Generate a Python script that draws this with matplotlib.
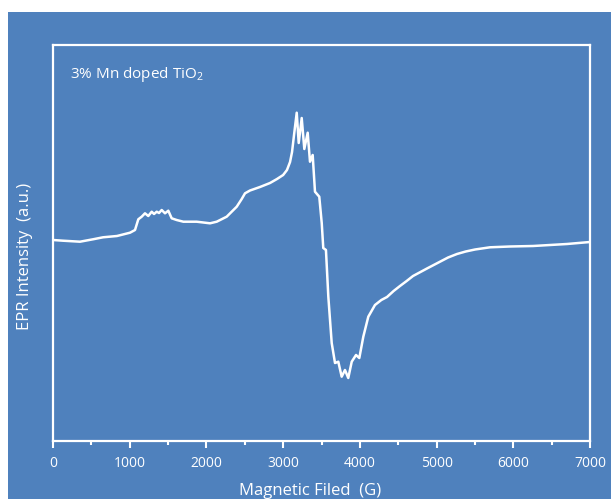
import matplotlib
matplotlib.use("Agg")
import matplotlib.pyplot as plt
from matplotlib.patches import Rectangle
from matplotlib.ticker import MultipleLocator

# Data (field in gauss, intensity in arbitrary units)
field = [0, 130, 352, 521, 652, 834, 1004, 1069, 1112, 1156, 1199, 1242, 1287,
         1317, 1352, 1382, 1417, 1460, 1503, 1547, 1612, 1699, 1873, 2047, 2134,
         2264, 2395, 2460, 2503, 2568, 2698, 2829, 2920, 3000, 3050, 3090, 3116, 3145, 3177, 3203,
         3242, 3276, 3320, 3350, 3385, 3415, 3471, 3503, 3523, 3558, 3589, 3633,
         3676, 3719, 3763, 3806, 3849, 3894, 3950, 3993, 4045, 4110, 4197, 4280, 4354,
         4440, 4523, 4610, 4693, 4875, 5045, 5150, 5266, 5380, 5501, 5696, 5957, 6257, 6479, 6700, 7000]
intensity = [0, -0.7, -1.7, 0.7, 2.7, 4, 7.3, 10, 20.7, 23.3, 26.7, 24, 28.3,
             26, 28.3, 27, 30, 26.7, 29.3, 21.7, 20, 18.3, 18.3, 16.7, 18.3,
             23.3, 33.3, 41, 46.7, 49.5, 53, 57, 61, 65, 70, 78, 88, 107, 127.3, 97,
             122, 91, 107.3, 78.3, 85, 48.3, 43.3, 17, -8, -10, -56.7, -103,
             -123, -121.7, -136.7, -130, -138, -121.7, -115, -118, -96.7, -76.7, -65, -60, -57,
             -51, -46, -41, -36, -28.5, -21.7, -17.5, -14, -11.5, -9.5, -7.3, -6.5, -6, -5, -4, -2]
x_ticks = [0, 1000, 2000, 3000, 4000, 5000, 6000, 7000]
x_label = "Magnetic Filed  (G)"
y_label = "EPR Intensity  (a.u.)"
annotation = "3% Mn doped TiO$_\\mathregular{2}$"

BLUE = "#4f81bd"
W, H = 611, 499

plt.rcParams['font.family'] = ['Open Sans', 'DejaVu Sans']
plt.rcParams['mathtext.fontset'] = 'custom'
plt.rcParams['mathtext.rm'] = 'Open Sans'
plt.rcParams['mathtext.it'] = 'Open Sans'
plt.rcParams['mathtext.bf'] = 'Open Sans'

fig = plt.figure(figsize=(W / 100, H / 100), dpi=100, facecolor="white")
fig.patches.append(Rectangle((8 / W, 0), 1 - 8 / W, 1 - 12 / H,
                             transform=fig.transFigure, facecolor=BLUE,
                             edgecolor="none", zorder=-10))

left, right = 53 / W, 590 / W
bottom, top = 1 - 441 / H, 1 - 45 / H
ax = fig.add_axes([left, bottom, right - left, top - bottom])
ax.set_facecolor(BLUE)

ax.plot(field, intensity, color="white", lw=1.8, solid_joinstyle="round")

ax.set_xlim(0, 7000)
ax.set_ylim(-201, 195)
ax.set_xticks(x_ticks)
ax.set_xticklabels([str(t) for t in x_ticks])
ax.xaxis.set_minor_locator(MultipleLocator(500))
ax.set_yticks([])

for s in ax.spines.values():
    s.set_color("white")
    s.set_linewidth(1.6)

ax.tick_params(axis="x", which="major", direction="out", length=5, width=1.5,
               color="white", labelcolor="white", labelsize=10, pad=6)
ax.tick_params(axis="x", which="minor", direction="out", length=3, width=1.5,
               color="white")

ax.set_xlabel(x_label, color="white", fontsize=12)
ax.xaxis.set_label_coords((310 - 53) / 537, -0.105)
ax.set_ylabel(y_label, color="white", fontsize=12)
ax.yaxis.set_label_coords(-0.037, (441 - 256) / 396)

ax.text((70 - 53) / 537, (441 - 75) / 396, annotation, transform=ax.transAxes,
        color="white", fontsize=11, va="center", ha="left")

fig.savefig("out.png", dpi=100, facecolor=fig.get_facecolor())
